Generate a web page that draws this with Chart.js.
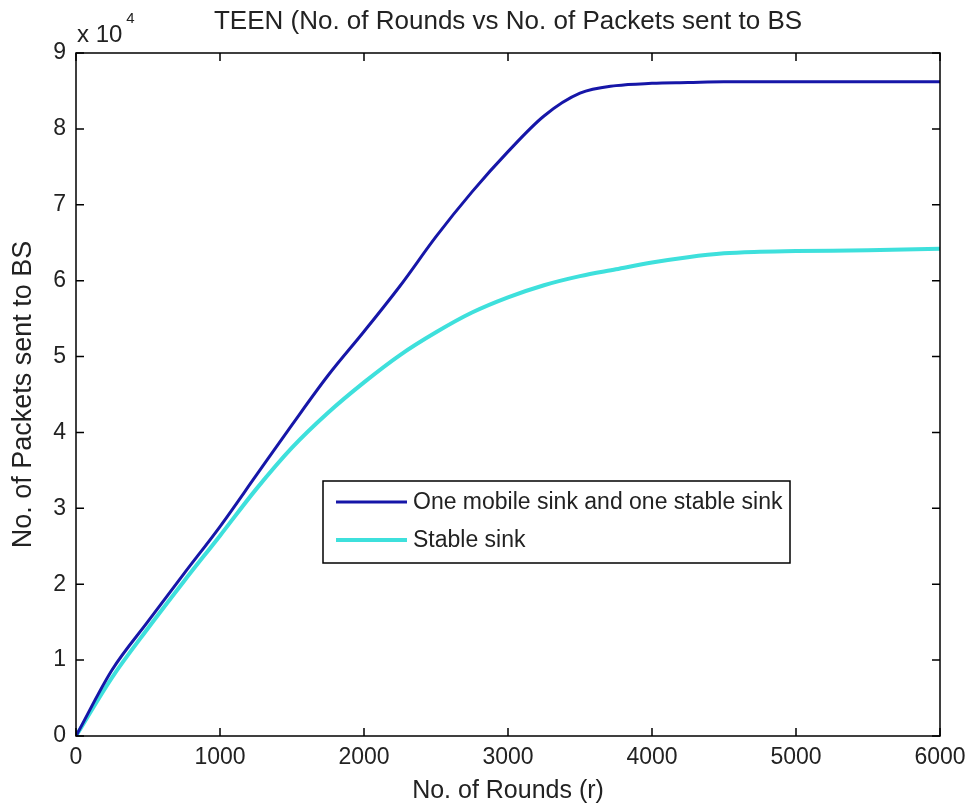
<!DOCTYPE html>
<html>
<head>
<meta charset="utf-8">
<script src="https://cdn.jsdelivr.net/npm/chart.js@4.4.1/dist/chart.umd.min.js"></script>
<style>
  html, body { margin: 0; padding: 0; background: #fff; }
  #wrap { width: 970px; height: 808px; }
</style>
</head>
<body>
<div id="wrap"><canvas id="teenChart"></canvas></div>
<script>
// Values (packets, x axis in rounds)
const rounds = [0, 250, 500, 750, 1000, 1250, 1500, 1750, 2000, 2250, 2500, 2750, 3000,
  3250, 3500, 3750, 4000, 4250, 4500, 4750, 5000, 5500, 6000];
const mobileSink = [0, 8700, 15100, 21400, 27600, 34300, 41000, 47500, 53300, 59300, 65800,
  71700, 77000, 81700, 84700, 85700, 86000, 86100, 86200, 86200, 86200, 86200, 86200];
const stableSink = [0, 7700, 14200, 20400, 26400, 32500, 38000, 42600, 46600, 50200, 53200,
  55800, 57800, 59400, 60600, 61500, 62400, 63100, 63600, 63800, 63900, 64000, 64200];
const xTickValues = [0, 1000, 2000, 3000, 4000, 5000, 6000];
const yTickValues = [0, 10000, 20000, 30000, 40000, 50000, 60000, 70000, 80000, 90000];

const FONT = "'Liberation Sans', Arial, Helvetica, sans-serif";

function toPoints(xs, ys) {
  return xs.map((x, i) => ({ x: x, y: ys[i] }));
}

// Box, inward ticks, exponent label and legend drawn like a MATLAB figure
const matlabFrame = {
  id: "matlabFrame",
  afterDraw(chart) {
    const ctx = chart.ctx;
    const area = chart.chartArea;
    const xs = chart.scales.x;
    const ys = chart.scales.y;
    const tick = 8;

    ctx.save();
    ctx.strokeStyle = "#000";
    ctx.lineWidth = 1.5;
    ctx.strokeRect(area.left, area.top, area.right - area.left, area.bottom - area.top);

    ctx.beginPath();
    xTickValues.forEach((v) => {
      const px = xs.getPixelForValue(v);
      ctx.moveTo(px, area.bottom);
      ctx.lineTo(px, area.bottom - tick);
      ctx.moveTo(px, area.top);
      ctx.lineTo(px, area.top + tick);
    });
    yTickValues.forEach((v) => {
      const py = ys.getPixelForValue(v);
      ctx.moveTo(area.left, py);
      ctx.lineTo(area.left + tick, py);
      ctx.moveTo(area.right, py);
      ctx.lineTo(area.right - tick, py);
    });
    ctx.stroke();

    // "x 10^4" multiplier
    ctx.fillStyle = "#222";
    ctx.textBaseline = "alphabetic";
    ctx.textAlign = "left";
    ctx.font = "24px " + FONT;
    ctx.fillText("x 10", area.left + 1, area.top - 11);
    const w = ctx.measureText("x 10").width;
    ctx.font = "15px " + FONT;
    ctx.fillText("4", area.left + 5 + w, area.top - 30);

    // legend box
    const lx = 323, ly = 481, lw = 467, lh = 82;
    ctx.fillStyle = "#fff";
    ctx.fillRect(lx, ly, lw, lh);
    ctx.strokeStyle = "#000";
    ctx.lineWidth = 1.5;
    ctx.strokeRect(lx, ly, lw, lh);
    ctx.font = "23px " + FONT;
    ctx.textBaseline = "middle";
    chart.data.datasets.forEach((ds, i) => {
      const y = ly + 21 + i * 38;
      ctx.strokeStyle = ds.borderColor;
      ctx.lineWidth = ds.borderWidth;
      ctx.beginPath();
      ctx.moveTo(lx + 13, y);
      ctx.lineTo(lx + 84, y);
      ctx.stroke();
      ctx.fillStyle = "#222";
      ctx.fillText(ds.label, lx + 90, y + 1);
    });
    ctx.restore();
  },
};

new Chart(document.getElementById("teenChart"), {
  type: "line",
  data: {
    datasets: [
      {
        label: "One mobile sink and one stable sink",
        data: toPoints(rounds, mobileSink),
        borderColor: "#1616a8",
        borderWidth: 3,
        pointRadius: 0,
        cubicInterpolationMode: "monotone",
        fill: false,
      },
      {
        label: "Stable sink",
        data: toPoints(rounds, stableSink),
        borderColor: "#3ee0dc",
        borderWidth: 4,
        pointRadius: 0,
        cubicInterpolationMode: "monotone",
        fill: false,
      },
    ],
  },
  options: {
    responsive: true,
    maintainAspectRatio: false,
    animation: false,
    layout: {
      padding: { left: 0, right: 30, top: 0, bottom: 0 },
    },
    plugins: {
      legend: { display: false },
      tooltip: { enabled: false },
      title: {
        display: true,
        text: "TEEN (No. of Rounds vs No. of Packets sent to BS",
        color: "#222",
        font: { family: FONT, size: 26, weight: "normal" },
        padding: { top: 6.4, bottom: 15.4 },
        fullSize: false,
      },
    },
    scales: {
      x: {
        type: "linear",
        min: 0,
        max: 6000,
        grid: { display: false, drawTicks: false },
        border: { display: false },
        ticks: {
          stepSize: 1000,
          padding: 8,
          color: "#222",
          maxRotation: 0,
          font: { family: FONT, size: 23 },
          callback: function (value) {
            return String(value);
          },
        },
        title: {
          display: true,
          text: "No. of Rounds (r)",
          color: "#222",
          font: { family: FONT, size: 25 },
          padding: { top: 0, bottom: 2 },
        },
        afterFit: function (scale) {
          scale.height = 72;
          scale.paddingLeft = 0;
          scale.paddingRight = 0;
        },
      },
      y: {
        min: 0,
        max: 90000,
        grid: { display: false, drawTicks: false },
        border: { display: false },
        ticks: {
          stepSize: 10000,
          padding: 10,
          color: "#222",
          font: { family: FONT, size: 23 },
          callback: function (value) {
            return value / 10000;
          },
        },
        title: {
          display: true,
          text: "No. of Packets sent to BS",
          color: "#222",
          font: { family: FONT, size: 27 },
          padding: { top: 7, bottom: 0 },
        },
        afterFit: function (scale) {
          scale.width = 76;
        },
      },
    },
  },
  plugins: [matlabFrame],
});
</script>
</body>
</html>
